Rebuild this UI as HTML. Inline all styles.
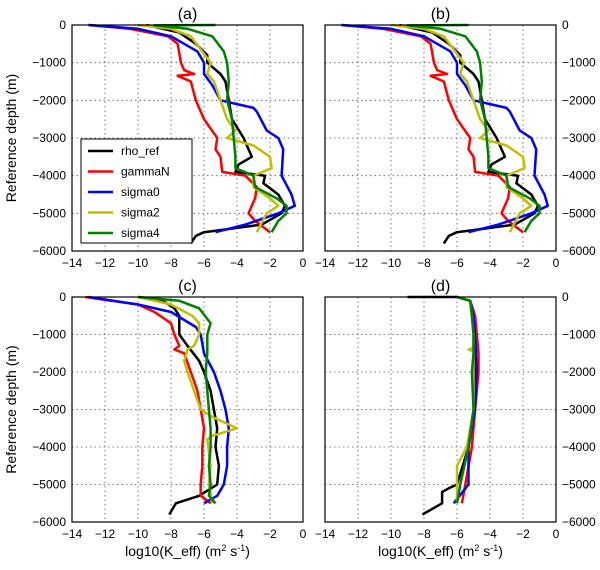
<!DOCTYPE html>
<html><head><meta charset="utf-8"><style>
body{margin:0;background:#fff;}
svg{display:block;font-family:"Liberation Sans",sans-serif;}
</style></head><body>
<svg id="fig" width="600" height="570" viewBox="0 0 600 570"></svg>
<script>
const xTicks=[-14,-12,-10,-8,-6,-4,-2,0];
const yTicks=[0,-1000,-2000,-3000,-4000,-5000,-6000];
const seriesNames=["rho_ref","gammaN","sigma0","sigma2","sigma4"];
const seriesColors=["#000","#f00","#00f","#bfbf00","#008000"];
// panel (a)/(b)
const aRhoD=[0,100,200,500,800,1000,1300,1500,2000,2500,3000,3200,3500,3700,3900,4000,4200,4500,4800,5000,5300,5500,5600,5800];
const aRhoV=[-9.5,-8.5,-7.5,-6.5,-5.8,-5.8,-5,-4.7,-4.5,-4.3,-3.6,-3.4,-3.1,-3.9,-4.1,-2.3,-2.4,-1.5,-1.1,-1.3,-2.5,-6,-6.5,-6.8];
const aGamD=[0,100,300,500,1000,1200,1300,1350,1500,2000,2500,3000,3300,3500,3900,4000,4300,4600,5000,5200,5500];
const aGamV=[-13,-10.5,-8.2,-7.6,-7.4,-7.2,-6.6,-7.6,-6.8,-6.5,-6,-5.2,-5.3,-5,-4.9,-3.5,-2.8,-2.9,-3.3,-2.9,-2];
const aS0D=[0,100,300,700,1000,1300,1600,2000,2100,2200,2300,2800,3000,3300,4000,4500,4800,5000,5300,5500];
const aS0V=[-13,-10,-8,-6.4,-6,-6,-5.5,-5,-4,-3,-2.8,-2.2,-1.5,-1.2,-1.3,-0.7,-0.5,-1.5,-3.5,-5.3];
const aS2D=[0,100,300,1000,1300,1500,2000,2500,2800,3000,3200,3500,3800,4000,4300,4600,4800,5000,5500];
const aS2V=[-10,-8,-6.8,-5.6,-5.8,-5.4,-5,-4.6,-4.1,-4.6,-3,-2,-1.9,-3,-3,-2,-1.5,-2.2,-2.8];
const aS4D=[0,10,100,300,700,1000,1500,2000,2500,3000,3500,3800,4000,4300,4600,4800,5000,5200,5500];
const aS4V=[-5.3,-9,-7,-5.5,-4.8,-4.6,-4.5,-4.6,-4.3,-4.2,-4.1,-4.1,-3,-2.9,-1.6,-1,-1,-1.5,-1.9];
// panel (c)
const cRhoD=[0,100,300,500,1000,1300,1700,2000,2500,3000,3500,4000,4500,5000,5300,5500,5800];
const cRhoV=[-10,-8.5,-7.8,-7.5,-7.5,-7,-6.3,-6,-5.6,-5.4,-5.2,-5.3,-5.1,-5.2,-6.3,-7.7,-8.1];
const cGamD=[0,200,400,700,1000,1300,1400,1500,2000,2500,3000,3500,4000,4500,5000,5300,5500];
const cGamV=[-13.2,-10,-9,-8,-7.8,-7.5,-7.8,-7.2,-6.8,-6.4,-6.2,-6,-6.1,-6.1,-6.2,-6.2,-5.6];
const cS0D=[0,200,400,800,1000,1500,2000,2500,3000,3500,4000,4500,5000,5300,5500];
const cS0V=[-13,-10,-8,-6.5,-6.2,-6,-5.4,-5,-4.7,-4.5,-4.6,-4.6,-4.8,-5.2,-6];
const cS2D=[0,200,500,700,1000,1300,1400,1700,2000,2500,3000,3200,3500,3700,3800,4500,5000,5500];
const cS2V=[-10,-8,-6.7,-6.3,-6.3,-6.6,-7,-7.2,-7,-6.6,-6.2,-5.5,-4,-5.5,-5.8,-5.6,-5.7,-5.5];
const cS4D=[0,100,300,700,1000,1500,2000,2500,3000,3500,4000,4500,5000,5300,5500];
const cS4V=[-10,-7.5,-6.3,-5.6,-5.8,-5.8,-5.9,-5.8,-5.7,-5.6,-5.6,-5.7,-5.6,-5.7,-5.3];
// panel (d)
const dRhoD=[0,0,100,500,1000,2000,3000,4000,5000,5100,5200,5500,5800];
const dRhoV=[-9,-6,-5.2,-5,-4.9,-4.9,-4.9,-5.3,-6,-6.5,-6.9,-6.9,-8.1];
const dGamD=[0,100,500,1000,1500,2000,3000,4000,5000,5500];
const dGamV=[-6,-5.2,-4.9,-4.8,-4.7,-4.7,-4.9,-5.1,-5.5,-5.7];
const dS0D=[0,100,500,1000,2000,3000,4000,5000,5500];
const dS0V=[-6,-5.2,-5,-4.9,-4.8,-4.9,-5.3,-5.3,-6.2];
const dS2D=[0,100,500,1000,1350,1400,1450,2000,3000,4000,4500,5000,5500];
const dS2V=[-6,-5.2,-5.1,-5,-5,-5.3,-5,-5,-5,-5.4,-6,-6,-6];
const dS4D=[0,100,500,1000,1500,2000,3000,4000,5000,5500];
const dS4V=[-6,-5.2,-5.1,-5,-5,-5.1,-5,-5.3,-5.8,-6];

const NS="http://www.w3.org/2000/svg";
const svg=document.getElementById("fig");
function mk(tag,attrs,parent){const e=document.createElementNS(NS,tag);for(const k in attrs)e.setAttribute(k,attrs[k]);(parent||svg).appendChild(e);return e;}

const panels=[
 {id:"a",x0:72,x1:303,y0:25,y1:251,side:"left",data:[[aRhoD,aRhoV],[aGamD,aGamV],[aS0D,aS0V],[aS2D,aS2V],[aS4D,aS4V]]},
 {id:"b",x0:325,x1:556,y0:25,y1:251,side:"right",data:[[aRhoD,aRhoV],[aGamD,aGamV],[aS0D,aS0V],[aS2D,aS2V],[aS4D,aS4V]]},
 {id:"c",x0:72,x1:303,y0:297,y1:522,side:"left",data:[[cRhoD,cRhoV],[cGamD,cGamV],[cS0D,cS0V],[cS2D,cS2V],[cS4D,cS4V]]},
 {id:"d",x0:325,x1:556,y0:297,y1:522,side:"right",data:[[dRhoD,dRhoV],[dGamD,dGamV],[dS0D,dS0V],[dS2D,dS2V],[dS4D,dS4V]]}
];

panels.forEach(p=>{
 const g=mk("g",{});
 
 
 const sx=v=>p.x0+(v+14)/14*(p.x1-p.x0);
 const sy=d=>p.y0+d/6000*(p.y1-p.y0);
 // grid
 xTicks.forEach(t=>{
  const l=mk("line",{x1:sx(t),x2:sx(t),y1:p.y0,y2:p.y1,stroke:"#555","stroke-width":0.8,"stroke-dasharray":"1.5,3"},g);
  
  
  const tx=mk("text",{x:sx(t),y:p.y1+16,"text-anchor":"middle","font-size":"12"},g);
  tx.textContent=(t<0?"\u2212"+(-t):t);
  
  
 });
 yTicks.forEach(t=>{
  const y=sy(-t);
  const l=mk("line",{x1:p.x0,x2:p.x1,y1:y,y2:y,stroke:"#555","stroke-width":0.8,"stroke-dasharray":"1.5,3"},g);
  
  
  const left=p.side==="left";
  const tx=mk("text",{x:left?p.x0-6:p.x1+6,y:y+4,"text-anchor":left?"end":"start","font-size":"12"},g);
  tx.textContent=(t<0?"\u2212"+(-t):t);
  
  
 });
 // series
 p.data.forEach((s,i)=>{
  const pts=s[0].map((d,k)=>sx(s[1][k]).toFixed(1)+","+sy(d).toFixed(1)).join(" ");
  const pl=mk("polyline",{points:pts,fill:"none",stroke:seriesColors[i],"stroke-width":2.5,"stroke-linejoin":"round"},g);
  
  
 });
 const fr=mk("rect",{x:p.x0,y:p.y0,width:p.x1-p.x0,height:p.y1-p.y0,fill:"none",stroke:"#000","stroke-width":1.2},g);
 
 
 const ti=mk("text",{x:(p.x0+p.x1)/2,y:p.y0-6,"text-anchor":"middle","font-size":"16"},g);
 ti.textContent="("+p.id+")";
 
 
 if(p.side==="left"){
  const yl=mk("text",{x:0,y:0,"text-anchor":"middle","font-size":"14",transform:"translate(16,"+((p.y0+p.y1)/2)+") rotate(-90)"},g);
  yl.textContent="Reference depth (m)";
  
  
 }
 if(p.id==="c"||p.id==="d"){
  const xl=mk("text",{x:(p.x0+p.x1)/2,y:p.y1+34,"text-anchor":"middle","font-size":"14"},g);
  xl.innerHTML='log10(K_eff) (m<tspan dy="-5" font-size="9">2</tspan><tspan dy="5"> s</tspan><tspan dy="-5" font-size="9">-1</tspan><tspan dy="5">)</tspan>';
  
  
 }
 if(p.id==="a"){
  const lg=mk("g",{},g);
  
  
  mk("rect",{x:81,y:139,width:111,height:104,fill:"#fff",stroke:"#000","stroke-width":1},lg);
  seriesNames.forEach((n,i)=>{
   const y=151+i*20.5;
   const e=mk("g",{},lg);
   
   
   mk("line",{x1:88,x2:113,y1:y,y2:y,stroke:seriesColors[i],"stroke-width":2.5},e);
   const t=mk("text",{x:121,y:y+4,"font-size":"12"},e);
   t.textContent=n;
  });
 }
});
</script>
</body></html>
